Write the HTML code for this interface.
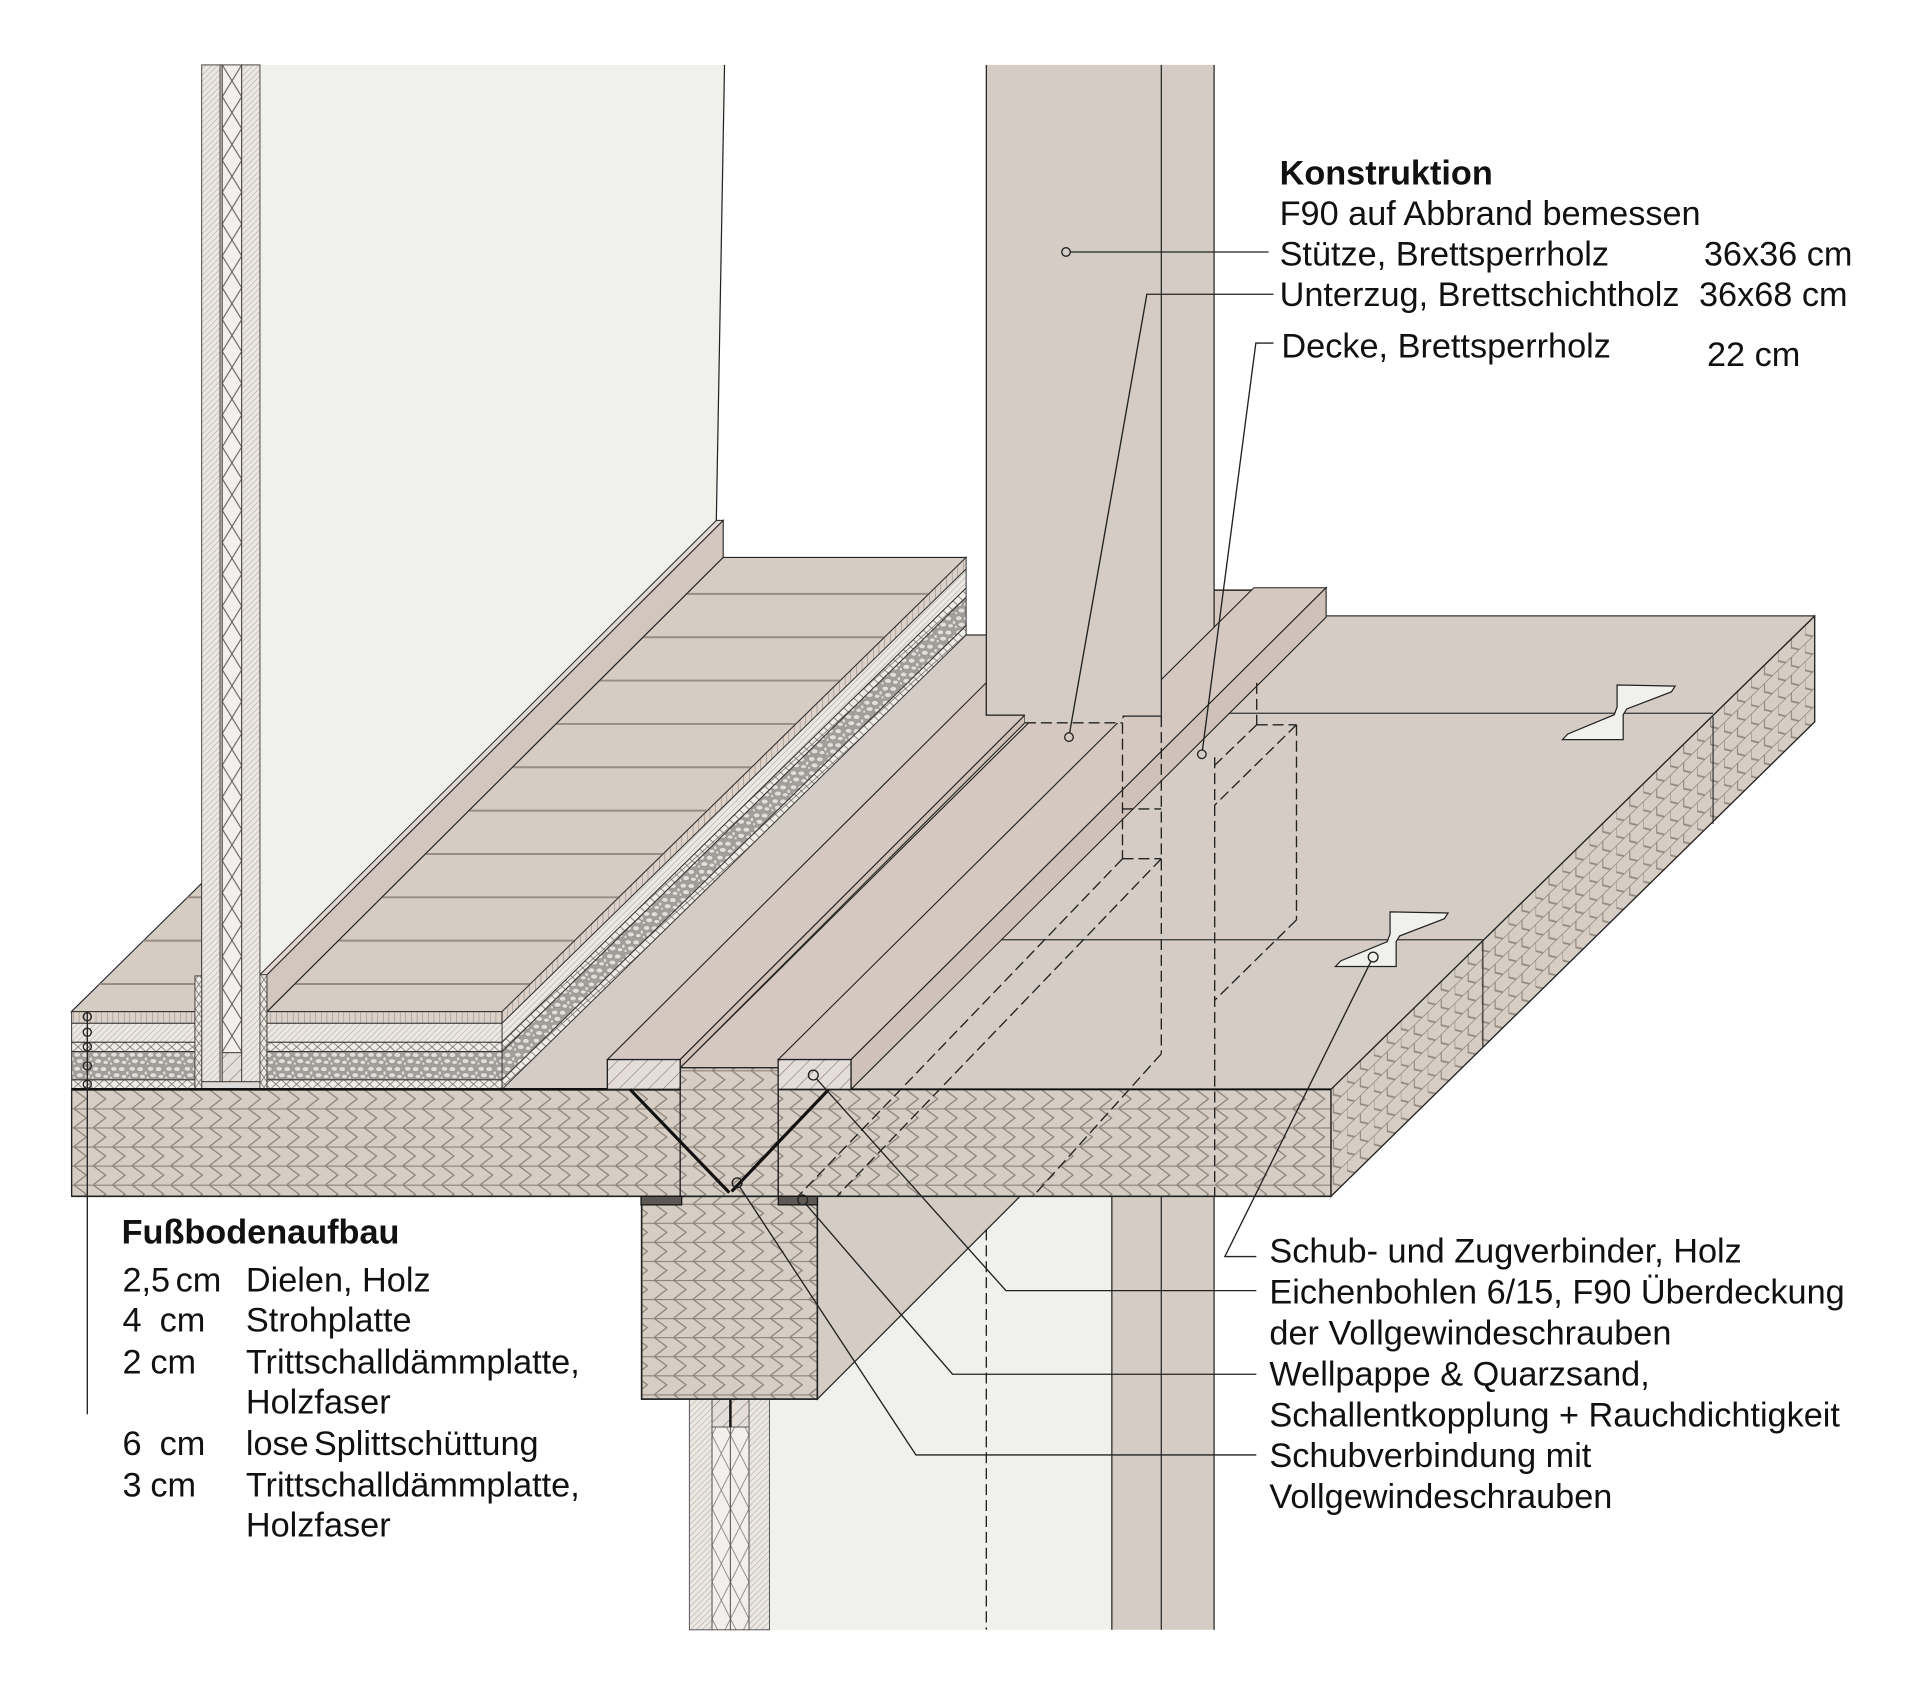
<!DOCTYPE html>
<html><head><meta charset="utf-8">
<style>html,body{margin:0;padding:0;background:#fff}svg{display:block}text{font-family:"Liberation Sans",Arial,sans-serif;fill:#111}</style>
</head><body>
<svg xmlns="http://www.w3.org/2000/svg" width="1920" height="1698" viewBox="0 0 1568 1386.7">
<defs>
<pattern id="clt" patternUnits="userSpaceOnUse" x="58.5" y="889.6" width="15.8" height="15.57">
<rect width="15.8" height="15.57" fill="#d6cdc4"/>
<path d="M0 0.4H15.8M2 0.4L12 7.8L2 15.57" stroke="#8a8179" stroke-width="1" fill="none"/>
</pattern>
<pattern id="cltS" patternUnits="userSpaceOnUse" x="0" y="1949.4" width="22" height="14.57" patternTransform="skewY(-44.3)">
<rect width="22" height="14.57" fill="#d6cdc4"/>
<path d="M0 0.4H22M0 0V7.3L6 14.57M11 0V7.3L17 14.57" stroke="#8f867e" stroke-width="0.9" fill="none"/>
</pattern>
<pattern id="hf" patternUnits="userSpaceOnUse" width="3.4" height="3.4" patternTransform="rotate(45)">
<rect width="3.4" height="3.4" fill="#ebe7e3"/><path d="M0 0V3.4" stroke="#b3aba4" stroke-width="0.9"/>
</pattern>
<pattern id="hc" patternUnits="userSpaceOnUse" width="8.5" height="8.5" patternTransform="rotate(45)">
<rect width="8.5" height="8.5" fill="#e4ddd8"/><path d="M0 0V8.5" stroke="#7b726c" stroke-width="0.9"/>
</pattern>
<pattern id="xw" patternUnits="userSpaceOnUse" x="181.5" y="53" width="15.9" height="26">
<rect width="15.9" height="26" fill="#f2efec"/><path d="M0 0L15.9 26M15.9 0L0 26" stroke="#59524e" stroke-width="0.8"/>
</pattern>
<pattern id="xw2" patternUnits="userSpaceOnUse" x="581.5" y="1142" width="15.1" height="30">
<rect width="15.1" height="30" fill="#f2efec"/><path d="M0 0L15.1 30M15.1 0L0 30" stroke="#8a837e" stroke-width="0.7"/>
</pattern>
<pattern id="xf" patternUnits="userSpaceOnUse" x="0" y="851.2" width="8.5" height="7.6">
<rect width="8.5" height="7.6" fill="#efece8"/><path d="M0 0L8.5 7.6M8.5 0L0 7.6" stroke="#6e6761" stroke-width="0.6"/>
</pattern>
<pattern id="xp" patternUnits="userSpaceOnUse" x="0" y="796" width="5.6" height="8">
<rect width="5.6" height="8" fill="#ebe7e3"/><path d="M0 0L5.6 8M5.6 0L0 8" stroke="#6e6761" stroke-width="0.6"/>
</pattern>
<pattern id="grav" patternUnits="userSpaceOnUse" x="0" y="858.8" width="15" height="11.5">
<rect width="15" height="11.5" fill="#a29e9a"/>
<g fill="#e1dfdc" stroke="#8d8985" stroke-width="0.4">
<ellipse cx="3" cy="2.6" rx="2.6" ry="1.9"/><ellipse cx="9.5" cy="2.8" rx="2.7" ry="2"/>
<ellipse cx="14.2" cy="6" rx="1.4" ry="1.6"/><ellipse cx="5.2" cy="7.8" rx="2.8" ry="2"/>
<ellipse cx="11.3" cy="8.8" rx="2.3" ry="1.7"/><ellipse cx="0.8" cy="9.8" rx="1.1" ry="1.3"/>
</g>
</pattern>
<pattern id="vl" patternUnits="userSpaceOnUse" x="0" y="0" width="4.6" height="12">
<rect width="4.6" height="12" fill="#dbd1c9"/><path d="M0 0V12" stroke="#8b8179" stroke-width="0.8"/>
</pattern>
<clipPath id="boardsClip"><polygon points="218,826.2 590.6,455.2 789,455.2 410,826.2"/></clipPath>
<clipPath id="leftFloorClip"><polygon points="58.3,826.2 164.7,721.4 164.7,826.2"/></clipPath>
</defs>

<rect width="1568" height="1386.7" fill="#fff"/>

<!-- upper light wall panel -->
<polygon points="212.6,53 591.7,53 585,425 212.6,797" fill="#f0f0ec"/>
<line x1="591.7" y1="53" x2="585" y2="425" stroke="#222" stroke-width="1"/>

<!-- slab top -->
<polygon points="410,889.6 1087,889.6 1482,503 1083,503 1083,481 900,481 900,518.4 789,518.6" fill="#d5cdc5"/>
<line x1="1083" y1="503" x2="1482" y2="503" stroke="#333" stroke-width="1"/>
<line x1="789" y1="518.6" x2="806" y2="518.6" stroke="#333" stroke-width="1"/>
<line x1="817.5" y1="767.5" x2="1211" y2="767.5" stroke="#333" stroke-width="1"/>
<line x1="1004" y1="582.5" x2="1399" y2="582.5" stroke="#333" stroke-width="1"/>

<!-- floor boards top -->
<polygon points="218,826.2 590.6,455.2 789,455.2 410,826.2" fill="#d5ccc3" stroke="#222" stroke-width="0.9"/>
<g clip-path="url(#boardsClip)" stroke="#978d85" stroke-width="1.6">
<line x1="100" y1="485" x2="900" y2="485"/><line x1="100" y1="520.4" x2="900" y2="520.4"/>
<line x1="100" y1="555.8" x2="900" y2="555.8"/><line x1="100" y1="591.2" x2="900" y2="591.2"/>
<line x1="100" y1="626.6" x2="900" y2="626.6"/><line x1="100" y1="662" x2="900" y2="662"/>
<line x1="100" y1="697.4" x2="900" y2="697.4"/><line x1="100" y1="732.8" x2="900" y2="732.8"/>
<line x1="100" y1="768.2" x2="900" y2="768.2"/><line x1="100" y1="803.6" x2="900" y2="803.6"/>
</g>

<!-- buildup side face -->
<g stroke="#333" stroke-width="0.8">
<polygon points="410,826.2 789,455.2 789,464.7 410,835.7" fill="url(#vl)"/>
<polygon points="410,835.7 789,464.7 789,480.2 410,851.2" fill="url(#hf)"/>
<polygon points="410,851.2 789,480.2 789,487.8 410,858.8" fill="url(#xf)"/>
<polygon points="410,858.8 789,487.8 789,510.9 410,881.9" fill="url(#grav)"/>
<polygon points="410,881.9 789,510.9 789,518.6 410,889.6" fill="url(#xf)"/>
</g>

<!-- skirting -->
<polygon points="218,796 590.6,425 590.6,455.2 218,826.2" fill="#d3c6be" stroke="#222" stroke-width="0.9"/>
<polygon points="212.3,796 218,796 590.6,425 585,425" fill="#e2d8d2" stroke="#222" stroke-width="0.8"/>

<!-- left floor top -->
<polygon points="58.3,826.2 164.7,721.4 164.7,826.2" fill="#d5ccc3" stroke="#222" stroke-width="0.9"/>
<g clip-path="url(#leftFloorClip)" stroke="#978d85" stroke-width="1.6">
<line x1="40" y1="732.8" x2="170" y2="732.8"/><line x1="40" y1="768.2" x2="170" y2="768.2"/><line x1="40" y1="803.6" x2="170" y2="803.6"/>
</g>

<!-- buildup front faces -->
<g stroke="#333" stroke-width="0.8">
<rect x="58.5" y="826.2" width="100.7" height="9.5" fill="url(#vl)"/>
<rect x="58.5" y="835.7" width="100.7" height="15.5" fill="url(#hf)"/>
<rect x="58.5" y="851.2" width="100.7" height="7.6" fill="url(#xf)"/>
<rect x="58.5" y="858.8" width="100.7" height="23.1" fill="url(#grav)"/>
<rect x="58.5" y="881.9" width="100.7" height="7.7" fill="url(#xf)"/>
<rect x="218" y="826.2" width="192" height="9.5" fill="url(#vl)"/>
<rect x="218" y="835.7" width="192" height="15.5" fill="url(#hf)"/>
<rect x="218" y="851.2" width="192" height="7.6" fill="url(#xf)"/>
<rect x="218" y="858.8" width="192" height="23.1" fill="url(#grav)"/>
<rect x="218" y="881.9" width="192" height="7.7" fill="url(#xf)"/>
</g>

<!-- upper wall -->
<g stroke="#4a4440" stroke-width="0.8">
<rect x="164.7" y="53" width="15" height="830.4" fill="url(#hf)"/>
<rect x="179.7" y="53" width="1.8" height="830.4" fill="#ddd7d2"/>
<rect x="181.5" y="53" width="15.9" height="806.7" fill="url(#xw)"/>
<rect x="181.5" y="859.7" width="15.9" height="23.7" fill="url(#hc)"/>
<rect x="197.4" y="53" width="14.9" height="830.4" fill="url(#hf)"/>
<rect x="164.7" y="883.4" width="47.6" height="6.2" fill="#dcdad8"/>
<rect x="159.2" y="797" width="5.5" height="92.6" fill="url(#xp)"/>
<rect x="212.3" y="796" width="5.7" height="93.6" fill="url(#xp)"/>
</g>

<!-- beam top strip -->
<polygon points="555.5,872 635.5,872 1029.5,482 949.5,482" fill="#d5c8c0" stroke="#222" stroke-width="0.9"/>
<line x1="991.5" y1="482" x2="1024" y2="482" stroke="#222" stroke-width="0.9"/>

<!-- left bohle -->
<polygon points="496,865.3 555.5,865.3 837,584 805.5,584 805.5,557.5" fill="#d5c8c0" stroke="#222" stroke-width="0.9"/>
<polygon points="555.5,865.3 837,584 837,590.3 555.5,872" fill="#d0c2b9" stroke="#222" stroke-width="0.9"/>

<!-- column side face -->
<rect x="948.4" y="53" width="43.1" height="532" fill="#d5cdc5"/>
<line x1="991.5" y1="53" x2="991.5" y2="540" stroke="#222" stroke-width="1"/>

<!-- right bohle -->
<polygon points="635.5,865.3 695,865.3 1083,480 1024,480" fill="#d5c8c0" stroke="#222" stroke-width="0.9"/>
<polygon points="695,865.3 1083,480 1083,504 695,889.6" fill="#d0c2b9" stroke="#222" stroke-width="0.9"/>

<!-- column front face -->
<polygon points="805.5,53 948.4,53 948.4,584.8 916.7,584.8 916.7,590.3 837,590.3 837,584 805.5,584" fill="#d5cdc5"/>
<polyline points="805.5,53 805.5,584 837,584" fill="none" stroke="#222" stroke-width="1"/>
<polyline points="916.7,584.8 948.4,584.8 948.4,53" fill="none" stroke="#222" stroke-width="1"/>

<!-- lower region (behind beam) -->
<rect x="628.4" y="977" width="279.6" height="354" fill="#f0f0ec"/>
<polygon points="667.5,977 833,977 667.5,1142.6" fill="#d5cdc5" stroke="#222" stroke-width="1"/>
<rect x="908" y="977" width="83.5" height="354" fill="#d5cdc5"/>
<g stroke="#333" stroke-width="1.1">
<line x1="908" y1="977" x2="908" y2="1331"/><line x1="948.4" y1="977" x2="948.4" y2="1331"/><line x1="991.5" y1="977" x2="991.5" y2="1331"/>
</g>
<g stroke="#555" stroke-width="0.8">
<rect x="563" y="1142.6" width="18.5" height="188.4" fill="url(#hf)"/>
<rect x="581.5" y="1142.6" width="15" height="188.4" fill="url(#xw2)"/>
<rect x="596.5" y="1142.6" width="15.2" height="188.4" fill="url(#xw2)"/>
<rect x="611.7" y="1142.6" width="16.7" height="188.4" fill="url(#hf)"/>
<rect x="581.5" y="1142.6" width="30.2" height="22.8" fill="url(#hc)"/>
</g>
<line x1="596.5" y1="1142.6" x2="596.5" y2="1165.4" stroke="#111" stroke-width="2"/>

<!-- slab front + beam -->
<g stroke="#222" stroke-width="1.1">
<rect x="58.5" y="889.6" width="497" height="87.4" fill="url(#clt)"/>
<rect x="635.5" y="889.6" width="451.5" height="87.4" fill="url(#clt)"/>
<rect x="524" y="977" width="143.5" height="165.6" fill="url(#clt)"/>
<rect x="555.5" y="872" width="80" height="105" fill="url(#clt)"/>
<polygon points="1087,889.6 1482,503 1482,589.5 1087,977" fill="url(#cltS)"/>
</g>
<line x1="1211" y1="768.7" x2="1211" y2="856" stroke="#333" stroke-width="1"/>
<line x1="1399" y1="585.4" x2="1399" y2="672.8" stroke="#333" stroke-width="1"/>
<line x1="58.5" y1="889.6" x2="555.5" y2="889.6" stroke="#111" stroke-width="2.2"/>
<line x1="635.5" y1="889.6" x2="1087" y2="889.6" stroke="#111" stroke-width="1.6"/>
<line x1="58.5" y1="977" x2="1087" y2="977" stroke="#222" stroke-width="1.3"/>
<rect x="524" y="977" width="143.5" height="165.6" fill="none" stroke="#222" stroke-width="1.3"/>

<!-- bohle front faces -->
<rect x="496" y="865.3" width="59.5" height="24.3" fill="url(#hc)" stroke="#222" stroke-width="1.1"/>
<rect x="635.5" y="865.3" width="59.5" height="24.3" fill="url(#hc)" stroke="#222" stroke-width="1.1"/>

<!-- screws & strips -->
<line x1="514.5" y1="889.6" x2="595.6" y2="974" stroke="#111" stroke-width="2.6"/>
<line x1="676.5" y1="890" x2="597.5" y2="973" stroke="#111" stroke-width="2.6"/>
<rect x="523.5" y="977" width="33.2" height="7" fill="#5d5853" stroke="#111" stroke-width="1"/>
<rect x="635.6" y="977" width="31.9" height="7" fill="#5d5853" stroke="#111" stroke-width="1"/>

<!-- bowties -->
<polygon points="1320.6,559.4 1368,560.3 1365,565 1328.5,579 1325.6,583.7 1325.6,604 1276,604 1280.4,599.4 1318.3,583.7 1320.6,577.5" fill="#f0f0ec" stroke="#222" stroke-width="1"/>
<polygon points="1135.2,744.7 1182.6,745.6 1179.6,750.3 1143.1,764.3 1140.2,769 1140.2,789.3 1090.6,789.3 1095,784.7 1132.9,769 1135.2,762.8" fill="#f0f0ec" stroke="#222" stroke-width="1"/>

<!-- dashed hidden lines -->
<g stroke="#222" stroke-width="1.1" stroke-dasharray="9 4" fill="none">
<line x1="837" y1="590.3" x2="916.7" y2="590.3"/>
<line x1="916.7" y1="590.3" x2="916.7" y2="701.3"/>
<line x1="916.7" y1="660.6" x2="948.4" y2="660.6"/>
<line x1="916.7" y1="701.3" x2="948.4" y2="701.3"/>
<line x1="948.4" y1="584.8" x2="948.4" y2="860.6"/>
<line x1="948.4" y1="860.6" x2="843.6" y2="977"/>
<line x1="916.7" y1="701.3" x2="651.7" y2="977"/>
<line x1="948.4" y1="701.3" x2="683.4" y2="977"/>
<line x1="992" y1="618.4" x2="992" y2="977"/>
<line x1="1026.3" y1="557.7" x2="1026.3" y2="591.9"/>
<line x1="1026.3" y1="591.9" x2="1058.8" y2="591.9"/>
<line x1="1058.8" y1="591.9" x2="1058.8" y2="751.2"/>
<line x1="1058.8" y1="751.2" x2="992" y2="816.9"/>
<line x1="1058.8" y1="591.9" x2="992" y2="657.5"/>
<line x1="1026.3" y1="591.9" x2="992" y2="625"/>
<line x1="805.5" y1="1004" x2="805.5" y2="1331"/>
</g>

<!-- leaders -->
<g stroke="#222" stroke-width="1.1" fill="none">
<circle cx="870.6" cy="205.8" r="3.5"/><line x1="874.1" y1="205.8" x2="1036" y2="205.8"/>
<circle cx="873" cy="602" r="3.5"/><polyline points="873.5,598.5 936.6,240.3 1040,240.3"/>
<circle cx="981.5" cy="616" r="3.5"/><polyline points="982,612.5 1025.6,280.2 1040,280.2"/>
<circle cx="1121.4" cy="781.6" r="4"/><polyline points="1119.6,785.2 1000.3,1026.2 1026,1026.2"/>
<circle cx="664.2" cy="878" r="4"/><polyline points="666.8,881 821.5,1054 1026,1054"/>
<circle cx="655.5" cy="980" r="4"/><polyline points="658,983.2 777.9,1122.3 1026,1122.3"/>
<circle cx="602" cy="966" r="4"/><polyline points="604.2,969.4 748,1188.2 1026,1188.2"/>
<line x1="71.3" y1="826" x2="71.3" y2="1155"/>
<circle cx="71.3" cy="830.3" r="3.3"/><circle cx="71.3" cy="843" r="3.3"/><circle cx="71.3" cy="854.8" r="3.3"/><circle cx="71.3" cy="870.5" r="3.3"/><circle cx="71.3" cy="885.5" r="3.3"/>
</g>

<!-- text -->
<g font-size="28">
<text x="1045" y="150.5" font-weight="bold">Konstruktion</text>
<text x="1045" y="183.7">F90 auf Abbrand bemessen</text>
<text x="1045" y="217">Stütze, Brettsperrholz</text>
<text x="1391.5" y="217">36x36 cm</text>
<text x="1045" y="250">Unterzug, Brettschichtholz</text>
<text x="1387.5" y="250">36x68 cm</text>
<text x="1046.5" y="292">Decke, Brettsperrholz</text>
<text x="1394" y="299">22 cm</text>

<text x="1036.7" y="1031">Schub- und Zugverbinder, Holz</text>
<text x="1036.7" y="1064.5">Eichenbohlen 6/15, F90 Überdeckung</text>
<text x="1036.7" y="1098">der Vollgewindeschrauben</text>
<text x="1036.7" y="1131.5">Wellpappe &amp; Quarzsand,</text>
<text x="1036.7" y="1165">Schallentkopplung + Rauchdichtigkeit</text>
<text x="1036.7" y="1198">Schubverbindung mit</text>
<text x="1036.7" y="1231.5">Vollgewindeschrauben</text>

<text x="99.3" y="1015.4" font-weight="bold">Fußbodenaufbau</text>
<text x="100" y="1054.9">2,5</text><text x="143.4" y="1054.9">cm</text><text x="200.8" y="1054.9">Dielen, Holz</text>
<text x="100" y="1087.5">4</text><text x="130.4" y="1087.5">cm</text><text x="200.8" y="1087.5">Strohplatte</text>
<text x="100" y="1121.5">2</text><text x="122.8" y="1121.5">cm</text><text x="200.8" y="1121.5">Trittschalldämmplatte,</text>
<text x="200.8" y="1154.2">Holzfaser</text>
<text x="100" y="1188.2">6</text><text x="130.4" y="1188.2">cm</text><text x="200.8" y="1188.2">lose</text><text x="256.3" y="1188.2">Splittschüttung</text>
<text x="100" y="1222.3">3</text><text x="122.8" y="1222.3">cm</text><text x="200.8" y="1222.3">Trittschalldämmplatte,</text>
<text x="200.8" y="1255">Holzfaser</text>
</g>
</svg>
</body></html>
